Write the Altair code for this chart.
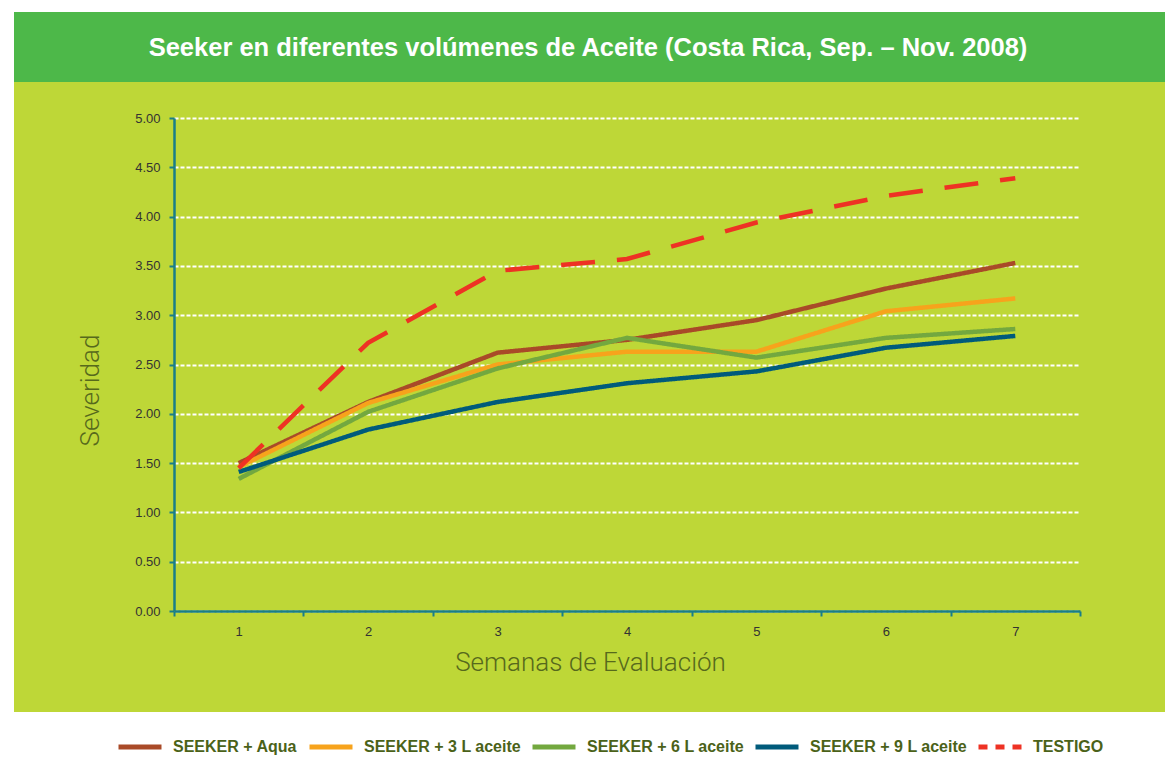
import altair as alt
import pandas as pd

# ---- data ----
weeks = [1, 2, 3, 4, 5, 6, 7]
series_names = ["SEEKER + Aqua", "SEEKER + 3 L aceite", "SEEKER + 6 L aceite",
                "SEEKER + 9 L aceite", "TESTIGO"]
aqua = [1.50, 2.12, 2.62, 2.75, 2.95, 3.27, 3.53]
l3 = [1.46, 2.11, 2.50, 2.63, 2.63, 3.04, 3.17]
l6 = [1.34, 2.02, 2.46, 2.77, 2.57, 2.77, 2.86]
l9 = [1.41, 1.84, 2.12, 2.31, 2.43, 2.67, 2.79]
testigo = [1.45, 2.72, 3.45, 3.57, 3.94, 4.21, 4.39]
series_colors = ["#A94A28", "#F7A31C", "#73A83F", "#005B7B", "#EE3224"]
y_ticks = [0, 0.5, 1, 1.5, 2, 2.5, 3, 3.5, 4, 4.5, 5]
x_ticks = [0.5, 1.5, 2.5, 3.5, 4.5, 5.5, 6.5, 7.5]
title_text = "Seeker en diferentes volúmenes de Aceite (Costa Rica, Sep. – Nov. 2008)"
x_title = "Semanas de Evaluación"
y_title = "Severidad"

rows = []
for name, vals in zip(series_names, [aqua, l3, l6, l9, testigo]):
    for w, v in zip(weeks, vals):
        rows.append({"week": w, "value": v, "series": name})
df = pd.DataFrame(rows)

W, H = 906, 493
TEAL = "#1A7E88"
LIME = "#BED737"
FONT = "Liberation Sans"
LIGHT = "Roboto"

x_enc = alt.X(
    "week:Q",
    scale=alt.Scale(domain=[0.5, 7.5], nice=False, zero=False),
    axis=alt.Axis(
        values=x_ticks,
        labelExpr="datum.value < 7 ? format(datum.value + 0.5, 'd') : ''",
        labelOffset=W / 14,
        labelFlush=False,
        labelOverlap=False,
        labelPadding=9,
        labelFont=FONT,
        labelFontSize=13,
        labelColor="#333333",
        tickSize=5,
        tickWidth=2,
        tickColor=TEAL,
        domainColor=TEAL,
        domainWidth=2.5,
        grid=False,
        title=x_title,
        titleX=416,
        titleY=51,
        titleAlign="center",
        titleBaseline="middle",
        titleFont=LIGHT,
        titleFontSize=26,
        titleFontWeight=300,
        titleColor="#56691C",
    ),
)
y_enc = alt.Y(
    "value:Q",
    scale=alt.Scale(domain=[0, 5], nice=False, zero=True),
    axis=alt.Axis(
        values=y_ticks,
        format=".2f",
        labelFlush=False,
        labelPadding=9,
        labelFont=FONT,
        labelFontSize=13,
        labelColor="#333333",
        tickSize=5,
        tickWidth=2,
        tickColor=TEAL,
        domainColor=TEAL,
        domainWidth=2.5,
        grid=True,
        gridColor="white",
        gridDash=[4, 2],
        gridWidth=2,
        title=y_title,
        titleX=-84,
        titleY=272,
        titleAngle=270,
        titleAlign="center",
        titleBaseline="middle",
        titleFont=LIGHT,
        titleFontSize=26,
        titleFontWeight=300,
        titleColor="#56691C",
    ),
)
color_enc = alt.Color(
    "series:N",
    scale=alt.Scale(domain=series_names, range=series_colors),
    title=None,
)
dash_enc = alt.StrokeDash(
    "series:N",
    scale=alt.Scale(domain=series_names,
                    range=[[1, 0], [1, 0], [1, 0], [1, 0], [9, 8]]),
    title=None,
)

one = pd.DataFrame({"k": [0]})
# white frame around the lime panel (chart background is lime)
white_top = alt.Chart(one).mark_rect(color="white").encode(
    x=alt.value(-170), x2=alt.value(1000), y=alt.value(-120), y2=alt.value(-106))
white_left = alt.Chart(one).mark_rect(color="white").encode(
    x=alt.value(-170), x2=alt.value(-160), y=alt.value(-120), y2=alt.value(700))
white_bottom = alt.Chart(one).mark_rect(color="white").encode(
    x=alt.value(-170), x2=alt.value(1000), y=alt.value(594), y2=alt.value(700))
header = alt.Chart(one).mark_rect(color="#4DB849").encode(
    x=alt.value(-160), x2=alt.value(1000), y=alt.value(-106), y2=alt.value(-36))
title_mark = alt.Chart(pd.DataFrame({"t": [title_text]})).mark_text(
    font=FONT, fontSize=25.5, fontWeight="bold", color="white",
    align="center", baseline="middle").encode(
    x=alt.value(414), y=alt.value(-70), text="t:N")

solid = alt.Chart(df).transform_filter(
    alt.datum.series != "TESTIGO"
).mark_line(strokeWidth=4.5).encode(
    x=x_enc, y=y_enc, color=color_enc, strokeDash=dash_enc,
    order="week:Q")
dashed = alt.Chart(df).transform_filter(
    alt.datum.series == "TESTIGO"
).mark_line(strokeWidth=4.5, strokeDash=[34, 22]).encode(
    x=x_enc, y=y_enc, color=color_enc, order="week:Q")

chart = alt.layer(white_top, white_left, white_bottom, header, title_mark,
                  solid, dashed).properties(
    width=W, height=H,
    padding={"left": 166, "top": 110, "right": 85, "bottom": 147},
    autosize=alt.AutoSizeParams(type="none"),
    background=LIME,
).configure_view(strokeWidth=0).configure_legend(
    orient="none", legendX=-58, legendY=605, direction="horizontal",
    symbolType="stroke", symbolSize=1849, symbolStrokeWidth=5,
    labelFont=FONT, labelFontWeight="bold", labelFontSize=16,
    labelColor="#4B6219", labelOffset=9, columnPadding=1, padding=0,
    zindex=1,
)

chart.save("out.html", embed_options={"renderer": "svg", "actions": False})
